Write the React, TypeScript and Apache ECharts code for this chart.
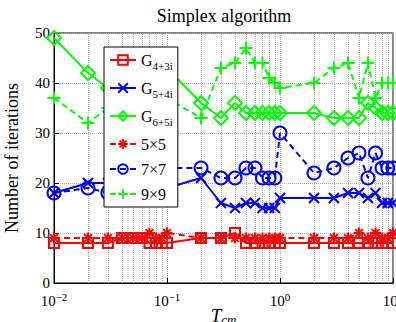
import { useEffect, useRef } from 'react';
import * as echarts from 'echarts';

const T = [0.01, 0.02, 0.03, 0.04, 0.05, 0.06, 0.07, 0.08, 0.09, 0.1, 0.2, 0.3, 0.4, 0.5, 0.6, 0.7, 0.8, 0.9, 1, 2, 3, 4, 5, 6, 7, 8, 9, 10];
const G43 = [8, 8, 8, 9, 9, 9, 8, 8, 8, 8, 9, 9, 10, 8, 8, 8, 8, 8, 8, 8, 8, 8, 8, 8, 8, 8, 8, 8];
const G54 = [18, 20, 20, 17, 17, 17, 17, 17, 18, 19, 21, 16, 15, 16, 16, 15, 15, 15, 17, 17, 17, 18, 18, 17, 18, 16, 16, 16];
const G65 = [49, 42, 39, 38, 39, 39, 40, 41, 42, 43, 36, 33, 36, 34, 34, 34, 34, 34, 34, 34, 33, 33, 33, 36, 35, 34, 34, 34];
const S5 = [9, 9, 9, 9, 9, 9, 10, 9, 9, 10, 9, 9, 9, 9, 9, 9, 9, 9, 9, 9, 9, 9, 10, 9, 10, 9, 9, 10];
const S7 = [18, 19, 18, 19, 20, 21, 22, 22, 23, 23, 23, 21, 21, 23, 23, 21, 21, 21, 30, 22, 23, 25, 26, 21, 26, 23, 23, 23];
const S9 = [37, 32, 35, 36, 37, 38, 38, 37, 37, 37, 33, 43, 44, 47, 44, 44, 41, 40, 39, 40, 43, 44, 37, 44, 37, 40, 40, 40];
const MINOR_X = [0.02, 0.03, 0.04, 0.05, 0.06, 0.07, 0.08, 0.09, 0.2, 0.3, 0.4, 0.5, 0.6, 0.7, 0.8, 0.9, 2, 3, 4, 5, 6, 7, 8, 9];
const LEGEND_LABELS: Record<string, [string, string]> = {
  G43: ['G', '4+3i'],
  G54: ['G', '5+4i'],
  G65: ['G', '6+5i'],
  S5: ['5×5', ''],
  S7: ['7×7', ''],
  S9: ['9×9', ''],
};

const FONT = 'Liberation Serif';
const RED = '#ff0000';
const BLUE = '#0000ff';
const GREEN = '#00ff00';
const CROSS = 'path://M0,0L10,10M10,0L0,10';
const PLUS = 'path://M5,0L5,10M0,5L10,5';
const STAR = 'path://M5,0L5,10M0,5L10,5M1.5,1.5L8.5,8.5M8.5,1.5L1.5,8.5';

function mk(name: string, vals: number[], color: string, symbol: string, size: number, dashed: boolean) {
  return {
    name,
    type: 'line',
    data: T.map((t, i) => [t, vals[i]]),
    symbol,
    symbolSize: size,
    showAllSymbol: true,
    lineStyle: { color, width: 2, type: dashed ? [6, 4] : 'solid' },
    itemStyle: { color: 'transparent', borderColor: color, borderWidth: 2 },
    z: 3,
  };
}

export default function App() {
  const ref = useRef<HTMLDivElement>(null);
  useEffect(() => {
    if (!ref.current) return;
    const chart = echarts.init(ref.current, null, { renderer: 'svg' });
    chart.setOption({
      animation: false,
      backgroundColor: '#fff',
      textStyle: { fontFamily: FONT },
      graphic: [
        {
          type: 'text',
          x: 224,
          y: 16,
          style: { text: 'Simplex algorithm', align: 'center', verticalAlign: 'middle', font: `18px "${FONT}"`, fill: '#000' },
        },
      ],
      grid: {
        left: 54,
        right: 3,
        top: 33,
        bottom: 39,
        show: true,
        borderColor: '#000',
        borderWidth: 1,
        containLabel: false,
        outerBoundsMode: 'none',
      },
      xAxis: {
        type: 'log',
        logBase: 10,
        min: 0.01,
        max: 10,
        name: '{i|T}{s|cm}',
        nameLocation: 'middle',
        nameGap: 21,
        nameMoveOverlap: false,
        nameTextStyle: {
          rich: {
            i: { fontFamily: FONT, fontStyle: 'italic', fontSize: 19, color: '#000' },
            s: { fontFamily: FONT, fontStyle: 'italic', fontSize: 13, color: '#000', padding: [9, 0, 0, 0] },
          },
        },
        axisLine: { show: true, lineStyle: { color: '#000', width: 1 } },
        axisTick: { show: true, inside: true, length: 5, lineStyle: { color: '#000' } },
        splitLine: { show: true, lineStyle: { color: '#b0b0b0', type: 'dotted', width: 1 } },
        axisLabel: {
          margin: 8,
          showMaxLabel: true,
          formatter: (v: number) => {
            const e = Math.round(Math.log10(v));
            return '{b|10}{p|' + (e < 0 ? '−' + -e : String(e)) + '}';
          },
          rich: {
            b: { fontFamily: FONT, fontSize: 15, color: '#000' },
            p: { fontFamily: FONT, fontSize: 11, color: '#000', padding: [0, 0, 9, 0] },
          },
        },
      },
      yAxis: {
        type: 'value',
        min: 0,
        max: 50,
        interval: 10,
        name: 'Number of iterations',
        nameLocation: 'middle',
        nameGap: 33,
        nameMoveOverlap: false,
        nameTextStyle: { fontFamily: FONT, fontSize: 18, color: '#000' },
        axisLine: { show: true, lineStyle: { color: '#000', width: 1 } },
        axisTick: { show: true, inside: true, length: 5, lineStyle: { color: '#000' } },
        splitLine: { show: true, lineStyle: { color: '#b0b0b0', type: 'dotted', width: 1 } },
        axisLabel: { margin: 4, fontFamily: FONT, fontSize: 15, color: '#000' },
      },
      legend: {
        data: ['G43', 'G54', 'G65', 'S5', 'S7', 'S9'],
        orient: 'vertical',
        left: 104,
        top: 47,
        padding: [5, 5, 5, 5],
        itemGap: 9,
        itemWidth: 26,
        itemHeight: 12,
        backgroundColor: '#fff',
        borderColor: '#000',
        borderWidth: 1,
        borderRadius: 0,
        textStyle: {
          fontFamily: FONT,
          color: '#000',
          rich: {
            m: { fontFamily: FONT, fontSize: 16, color: '#000' },
            s: { fontFamily: FONT, fontSize: 11, color: '#000', padding: [11, 0, 0, 0] },
          },
        },
        formatter: (name: string) => {
          const [m, s] = LEGEND_LABELS[name];
          return s ? `{m|${m}}{s|${s}}` : `{m|${m}}`;
        },
      },
      series: [
        {
          name: 'grid-minor',
          type: 'line',
          data: [],
          z: 1,
          silent: true,
          markLine: {
            silent: true,
            symbol: 'none',
            z: 1,
            label: { show: false },
            lineStyle: { color: '#b0b0b0', type: 'dotted', width: 1 },
            data: MINOR_X.map((v) => ({ xAxis: v })),
          },
        },
        mk('G43', G43, RED, 'rect', 10, false),
        mk('S5', S5, RED, STAR, 11, true),
        mk('G54', G54, BLUE, CROSS, 10, false),
        mk('S7', S7, BLUE, 'circle', 13, true),
        mk('G65', G65, GREEN, 'diamond', 14, false),
        mk('S9', S9, GREEN, PLUS, 13, true),
      ],
    });
    return () => chart.dispose();
  }, []);
  return <div ref={ref} style={{ position: 'fixed', left: 0, top: 0, width: 396, height: 322 }} />;
}
